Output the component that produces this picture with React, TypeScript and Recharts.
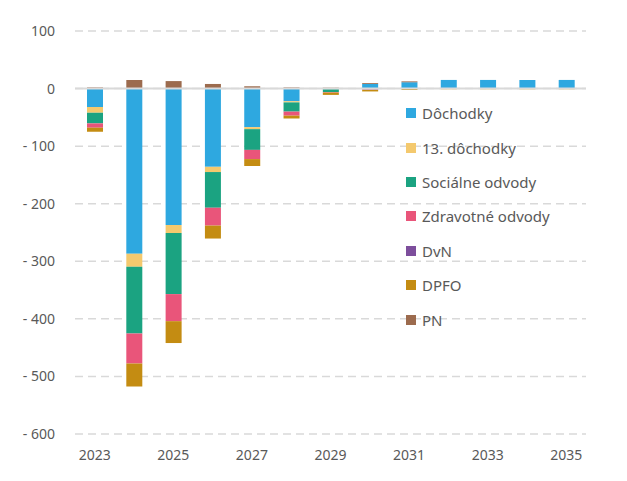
import React from 'react';
import { BarChart, Bar, XAxis, YAxis, CartesianGrid, ReferenceLine } from 'recharts';

const years = ['2023', '2024', '2025', '2026', '2027', '2028', '2029', '2030', '2031', '2032', '2033', '2034', '2035'];
const dochodky = [-32, -287, -237, -136, -67, -22, -1, 8, 11, 15, 15, 15, 15];
const trinasta = [-10, -22.5, -14, -9, -3.5, -2, 0, 0, -0.5, -1.5, -1.5, -1.5, -1.5];
const socialne = [-18.5, -116, -106, -62, -36, -16, -5, -1.5, 0, 0, 0, 0, 0];
const zdravotne = [-7.5, -52, -47, -31, -16, -7, -1, -1, 0, 0, 0, 0, 0];
const dvn = [0, 1, 0, 0, 0, 0, 0, 0, 0, 0, 0, 0, 0];
const dpfo = [-7, -40, -38, -22.5, -12, -5, -4, -2.5, -2, 0, 0, 0, 0];
const pn = [2, 14, 13, 8, 4, 2, 1.5, 1.5, 1.5, 0, 0, 0, 0];
const yTicks = [100, 0, -100, -200, -300, -400, -500, -600];

const series = [
  { key: 'd', name: 'Dôchodky', color: '#2ea8e0', values: dochodky },
  { key: 't', name: '13. dôchodky', color: '#f4c96e', values: trinasta },
  { key: 's', name: 'Sociálne odvody', color: '#1ba381', values: socialne },
  { key: 'z', name: 'Zdravotné odvody', color: '#e9557a', values: zdravotne },
  { key: 'v', name: 'DvN', color: '#7d4e9c', values: dvn },
  { key: 'p', name: 'DPFO', color: '#c48c12', values: dpfo },
  { key: 'n', name: 'PN', color: '#9c6b4e', values: pn },
];

const data = years.map((year, i) => {
  const row: any = { year };
  series.forEach((s) => {
    row[s.key] = s.values[i];
  });
  return row;
});

const fmt = (v: number) => (v < 0 ? `- ${Math.abs(v)}` : `${v}`);

export default function App() {
  return (
    <div style={{ width: 611, height: 473, position: 'relative' }}>
      <BarChart
        width={611}
        height={473}
        data={data}
        stackOffset="sign"
        margin={{ top: 23, right: 33, bottom: 17, left: 0 }}
      >
        <CartesianGrid vertical={false} stroke="#d9d9d9" strokeDasharray="8 5" strokeWidth={1.5} />
        <XAxis
          dataKey="year"
          interval={1}
          axisLine={false}
          tickLine={false}
          tickSize={0}
          tickMargin={16}
          height={30}
          tick={{ fill: '#595959', fontSize: 14, fontFamily: 'Noto Sans' }}
        />
        <YAxis
          width={67}
          domain={[-600, 100]}
          ticks={yTicks}
          interval={0}
          axisLine={false}
          tickLine={false}
          tickSize={0}
          tickMargin={20}
          tickFormatter={fmt}
          tick={{ fill: '#595959', fontSize: 14, fontFamily: 'Noto Sans' }}
        />
        {series.map((s) => (
          <Bar key={s.key} dataKey={s.key} name={s.name} stackId="a" fill={s.color} barSize={16} isAnimationActive={false} />
        ))}
        <ReferenceLine y={0} stroke="#d9d9d9" strokeWidth={2} />
      </BarChart>
      <div
        style={{
          position: 'absolute',
          left: 398,
          top: 88,
          fontFamily: 'Noto Sans',
          fontSize: 15,
          color: '#595959',
        }}
      >
        {series.map((s) => (
          <div key={s.key} style={{ height: 34.4, display: 'flex', alignItems: 'center' }}>
            <span style={{ width: 10, height: 10, background: s.color, display: 'inline-block', marginRight: 6 }} />
            <span>{s.name}</span>
          </div>
        ))}
      </div>
    </div>
  );
}
